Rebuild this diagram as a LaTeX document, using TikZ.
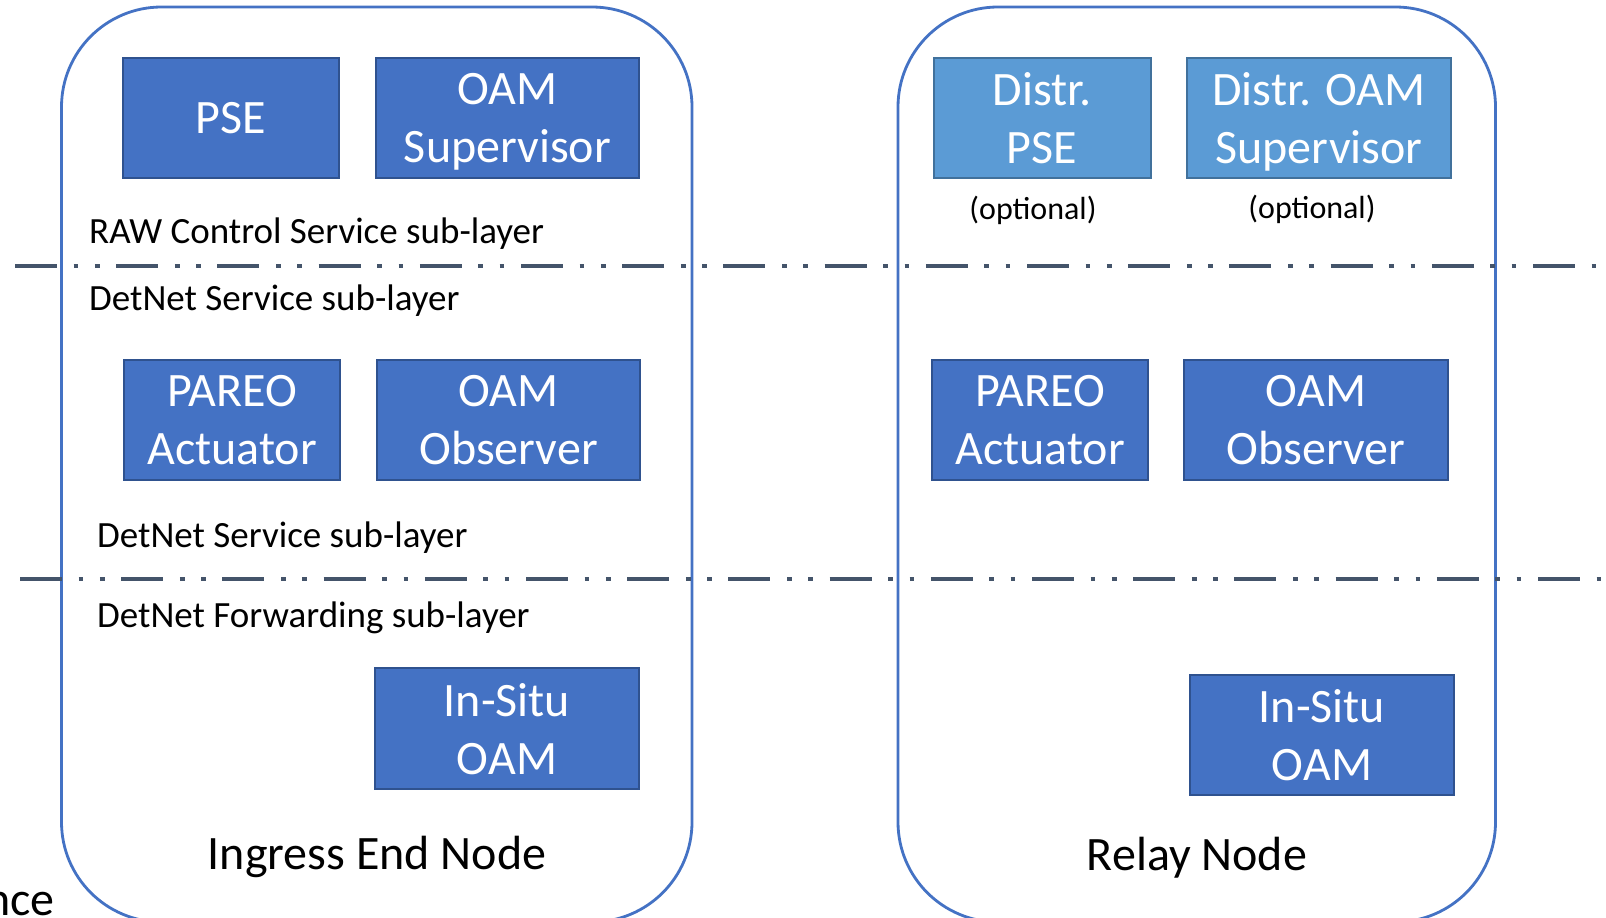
\documentclass[tikz,border=0pt]{standalone}
\usepackage{fontspec}
\setmainfont{Carlito}
\definecolor{cblue}{HTML}{4472C4}
\definecolor{cbord}{HTML}{2F528F}
\definecolor{lblue}{HTML}{5B9BD5}
\definecolor{lbord}{HTML}{41719C}
\definecolor{slate}{HTML}{44546A}
\tikzset{
  container/.style={draw=cblue, line width=2.8pt, rounded corners=100pt, inner sep=0pt},
  fbox/.style={draw=cbord, fill=cblue, line width=2pt, text=white,
    font=\fontsize{48}{58}\selectfont, align=center, minimum height=120pt,
    inner sep=0pt, text depth=0pt},
  lbox/.style={fbox, draw=lbord, fill=lblue},
  layerline/.style={draw=slate, line width=4.7pt,
    dash pattern=on 42pt off 16.6pt on 4.7pt off 16.6pt on 4.7pt off 16.6pt},
  lbl/.style={font=\fontsize{37}{44}\selectfont, anchor=base west, inner sep=0pt},
  optlbl/.style={font=\fontsize{32}{38}\selectfont, inner sep=0pt},
  title/.style={font=\fontsize{48}{58}\selectfont, anchor=base, inner sep=0pt},
}
\begin{document}
\begin{tikzpicture}[x=1pt,y=-1pt]
\useasboundingbox[fill=white] (0,0) rectangle (1606,918);

% containers
\node[container, minimum width=630.5pt, minimum height=915pt] (ingress) at (376.75,464.5) {};
\node[container, minimum width=597.5pt, minimum height=915pt] (relay) at (1196.75,464.5) {};

% layer lines
\coordinate (l1a) at (15,266);
\coordinate (l1b) at (1612,266);
\coordinate (l2a) at (20,579);
\coordinate (l2b) at (1612,579);
\draw[layerline] (l1a) -- (l1b);
\draw[layerline] (l2a) -- (l2b);

% ingress boxes
\node[fbox, minimum width=216pt] (pse) at (231,118) {PSE};
\node[fbox, minimum width=263pt] (oamsup) at (507.5,118) {OAM\\Supervisor};
\node[fbox, minimum width=216pt] (pareoL) at (232,420) {PAREO\\Actuator};
\node[fbox, minimum width=263pt] (obsL) at (508.5,420) {OAM\\Observer};
\node[fbox, minimum width=264pt, minimum height=121pt] (insituL) at (507,728.5) {In-Situ\\OAM};

% relay boxes
\node[lbox, minimum width=217pt] (dpse) at (1042,118) {Distr.\\PSE};
\node[lbox, minimum width=264pt] (dsup) at (1319,118) {Distr. OAM\\Supervisor};
\node[fbox, minimum width=216pt] (pareoR) at (1040,420) {PAREO\\Actuator};
\node[fbox, minimum width=264pt] (obsR) at (1316,420) {OAM\\Observer};
\node[fbox, minimum width=264pt] (insituR) at (1322,735) {In-Situ\\OAM};

% labels
\node[optlbl] (opt1) at (1033,210) {(optional)};
\node[optlbl] (opt2) at (1312,209) {(optional)};
\node[lbl] (raw) at (89,243) {RAW Control Service sub-layer};
\node[lbl] (dns1) at (89,310.5) {DetNet Service sub-layer};
\node[lbl] (dns2) at (97,547.5) {DetNet Service sub-layer};
\node[lbl] (dnf) at (97,627) {DetNet Forwarding sub-layer};

% titles
\node[title] (tin) at (377,869) {Ingress End Node};
\node[title] (trel) at (1197,870) {Relay Node};
\node[title, anchor=base east] (nce) at (55,915) {nce};
\end{tikzpicture}
\end{document}
